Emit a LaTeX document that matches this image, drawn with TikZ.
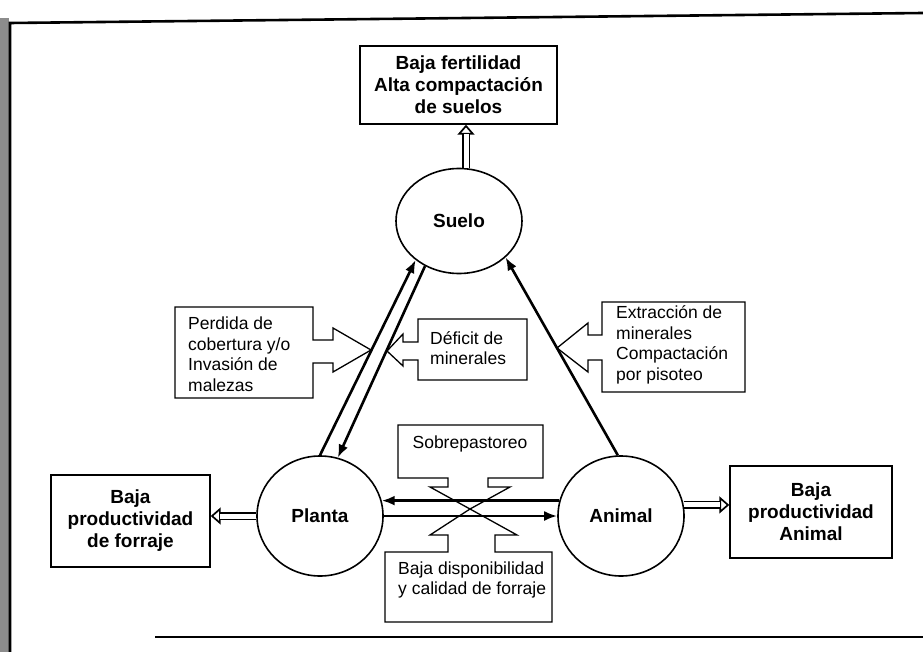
\documentclass[tikz,border=0pt]{standalone}
\usepackage{fontspec}
\setmainfont{Liberation Sans}
\usepackage{tikz}
\usetikzlibrary{positioning, arrows.meta, shapes.geometric}

\begin{document}
\begin{tikzpicture}[x=1pt,y=-1pt]
    \tikzstyle{factor}=[ellipse,draw,line width=1.6pt,inner sep=0pt,minimum width=126pt,font=\fontsize{19}{22}\selectfont\bfseries]
    \tikzstyle{effect}=[rectangle,draw,line width=1.4pt,align=center,font=\fontsize{19}{22}\selectfont\bfseries]
    \tikzstyle{cause}=[align=left,inner sep=0pt,font=\fontsize{17.5}{20.5}\selectfont]
    \tikzstyle{callout}=[draw,line width=1.3pt,line join=miter]
    \tikzstyle{link}=[line width=2.6pt,-{Latex[length=13pt,width=10pt]}]
    \tikzstyle{hollow}=[line width=8.5pt,-{Triangle[fill=white,length=10pt,width=17pt,line width=1.7pt]},
        postaction={draw=white,line width=5pt,-,shorten >=9pt}]

    \useasboundingbox (0,0) rectangle (923,652);

    % sheet edge
    \fill[black!45] (0,18) rectangle (9,652);
    \draw[line width=2.6pt] (10,652) -- (10,23) -- (923,13);
    \draw[line width=2pt] (155,637) -- (923,637);

    \node (suelo)[factor,minimum height=105pt] at (459,221) {Suelo};
    \node (planta)[factor,minimum height=120pt] at (320,516) {Planta};
    \node (animal)[factor,minimum height=120pt] at (621,516) {Animal};

    \node (fertilidad)[effect,minimum width=197pt,minimum height=78pt] at (458.5,85) {Baja fertilidad\\Alta compactación\\de suelos};
    \node (forraje)[effect,minimum width=159pt,minimum height=92pt] at (130.5,521) {Baja\\productividad\\de forraje};
    \node (produccion)[effect,minimum width=162pt,minimum height=92pt] at (811,512) {Baja\\productividad\\Animal};

    \draw[link] (planta.90) -- (suelo.222);
    \draw[link] (suelo.233) -- (planta.73);
    \draw[link] (animal.93) -- (suelo.322);
    \draw[link] (animal.166) -- (planta.14);
    \draw[link] (planta.east) -- (animal.west);

    \draw[hollow] ([xshift=7pt]suelo.north) -- ([xshift=7pt]suelo.north |- fertilidad.south);
    \draw[hollow] (planta.west) -- (planta.west -| forraje.east);
    \draw[hollow] (animal.10) -- (animal.10 -| produccion.west);

    % callouts pointing at the arrows
    \draw[callout] (313,340) -- (333,340) -- (333,328) -- (371,350) -- (333,372) -- (333,363) -- (313,363)
        -- (313,398) -- (175,398) -- (175,307) -- (313,307) -- cycle;
    \node (cobertura)[cause,anchor=west] at (188,354) {Perdida de\\cobertura y/o\\Invasión de\\malezas};

    \draw[callout] (418,342) -- (403,342) -- (403,334) -- (387,351) -- (403,366) -- (403,360) -- (418,360)
        -- (418,380) -- (527,380) -- (527,319) -- (418,319) -- cycle;
    \node (deficit)[cause,anchor=west] at (430,348) {Déficit de\\minerales};

    \draw[callout] (602,335) -- (588,335) -- (588,323) -- (557,348) -- (588,372) -- (588,360) -- (602,360)
        -- (602,392) -- (745,392) -- (745,302) -- (602,302) -- cycle;
    \node (extraccion)[cause,anchor=west] at (616,345) {Extracción de\\minerales\\Compactación\\por pisoteo};

    \draw[callout] (448,478) -- (448,487) -- (430,487) -- (470,509) -- (510,487) -- (488,487) -- (488,478)
        -- (543,478) -- (543,425) -- (398,425) -- (398,478) -- cycle;
    \node (sobrepastoreo)[cause] at (470,444) {Sobrepastoreo};

    \draw[callout] (448,552) -- (448,535) -- (430,535) -- (470,509) -- (517,535) -- (495,535) -- (495,552)
        -- (552,552) -- (552,622) -- (385,622) -- (385,552) -- cycle;
    \node (disponibilidad)[cause,anchor=west] at (398,580) {Baja disponibilidad\\y calidad de forraje};
\end{tikzpicture}
\end{document}
